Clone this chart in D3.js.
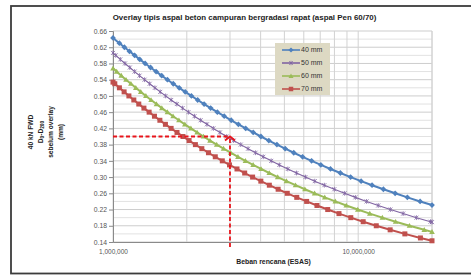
<!DOCTYPE html>
<html><head><meta charset="utf-8">
<script src="https://cdn.jsdelivr.net/npm/d3@7"></script>
<style>body{margin:0;background:#fff}svg{display:block}text{font-family:"Liberation Sans",Arial,sans-serif}</style>
</head><body>
<script>
const title = "Overlay tipis aspal beton campuran bergradasi rapat (aspal Pen 60/70)";
const xTitle = "Beban rencana (ESAS)";
const seriesNames = ["40 mm","50 mm","60 mm","70 mm"];
const seriesColors = ["#4F81BD","#8064A2","#9BBB59","#C0504D"];
// ESAS in millions, deflection D0-D200 (mm)
const esas40 = [1,1.062,1.113,1.167,1.225,1.286,1.352,1.423,1.499,1.580,1.667,1.761,1.862,1.970,2.088,2.215,2.353,2.502,2.665,2.842,3.035,3.246,3.478,3.732,4.012,4.320,4.661,5.040,5.460,5.930,6.455,7.044,7.708,8.458,9.310,10.28,11.39,12.67,14.15,15.87,17.89,20];
const d40 = [0.643,0.63,0.62,0.61,0.60,0.59,0.58,0.57,0.56,0.55,0.54,0.53,0.52,0.51,0.50,0.49,0.48,0.47,0.46,0.45,0.44,0.43,0.42,0.41,0.40,0.39,0.38,0.37,0.36,0.35,0.34,0.33,0.32,0.31,0.30,0.29,0.28,0.27,0.26,0.25,0.24,0.231];
const esas50 = [1,1.026,1.071,1.119,1.171,1.225,1.283,1.345,1.411,1.482,1.558,1.639,1.727,1.821,1.922,2.031,2.149,2.277,2.416,2.566,2.730,2.909,3.105,3.319,3.555,3.814,4.101,4.418,4.771,5.163,5.602,6.095,6.650,7.278,7.991,8.805,9.739,10.82,12.07,13.53,15.25,17.28,19.72,20];
const d50 = [0.606,0.60,0.59,0.58,0.57,0.56,0.55,0.54,0.53,0.52,0.51,0.50,0.49,0.48,0.47,0.46,0.45,0.44,0.43,0.42,0.41,0.40,0.39,0.38,0.37,0.36,0.35,0.34,0.33,0.32,0.31,0.30,0.29,0.28,0.27,0.26,0.25,0.24,0.23,0.22,0.21,0.20,0.19,0.189];
const esas60 = [1,1.035,1.081,1.130,1.183,1.239,1.298,1.362,1.430,1.504,1.582,1.667,1.758,1.857,1.963,2.078,2.203,2.339,2.487,2.648,2.825,3.019,3.233,3.468,3.728,4.017,4.337,4.696,5.098,5.551,6.062,6.642,7.305,8.065,8.941,9.958,11.15,12.55,14.21,16.19,18.60,20];
const d60 = [0.568,0.56,0.55,0.54,0.53,0.52,0.51,0.50,0.49,0.48,0.47,0.46,0.45,0.44,0.43,0.42,0.41,0.40,0.39,0.38,0.37,0.36,0.35,0.34,0.33,0.32,0.31,0.30,0.29,0.28,0.27,0.26,0.25,0.24,0.23,0.22,0.21,0.20,0.19,0.18,0.17,0.165];
const esas70 = [1,1.017,1.062,1.110,1.161,1.216,1.274,1.337,1.404,1.476,1.553,1.636,1.726,1.824,1.929,2.043,2.168,2.303,2.451,2.613,2.791,2.987,3.204,3.444,3.710,4.008,4.341,4.715,5.137,5.616,6.163,6.789,7.511,8.349,9.329,10.48,11.85,13.50,15.50,17.94,20];
const d70 = [0.534,0.53,0.52,0.51,0.50,0.49,0.48,0.47,0.46,0.45,0.44,0.43,0.42,0.41,0.40,0.39,0.38,0.37,0.36,0.35,0.34,0.33,0.32,0.31,0.30,0.29,0.28,0.27,0.26,0.25,0.24,0.23,0.22,0.21,0.20,0.19,0.18,0.17,0.16,0.15,0.143];
const yTicks = [0.14,0.18,0.22,0.26,0.30,0.34,0.38,0.42,0.46,0.50,0.54,0.58,0.62,0.66];
const xTickValues = [1e6,1e7];
const xTickLabels = ["1,000,000","10,000,000"];
const refX = 3e6, refY = 0.40;

const W=471,H=276;
const svg=d3.select("body").append("svg").attr("width",W).attr("height",H);
svg.append("rect").attr("x",11).attr("y",6).attr("width",480).attr("height",267.5)
  .attr("fill","#fff").attr("stroke","#3c3c3c").attr("stroke-width",1.8);

const x=d3.scaleLog().domain([1e6,2e7]).range([113,432]);
const y=d3.scaleLinear().domain([0.14,0.66]).range([242,31]);

// gridlines
const g=svg.append("g");
const minorY=d3.range(0.14,0.6601,0.02).map(v=>+v.toFixed(2));
g.selectAll(".hy").data(minorY).join("line")
  .attr("x1",113).attr("x2",432).attr("y1",d=>y(d)).attr("y2",d=>y(d))
  .attr("stroke",d=>yTicks.some(t=>Math.abs(t-d)<1e-6)?"#cdcdcd":"#e2e2e2").attr("stroke-width",1);
const vx=[];for(let k=6;k<=7;k++)for(let m=1;m<=9;m++){const v=m*Math.pow(10,k);if(v<=2e7)vx.push(v);}
vx.push(2e7);
g.selectAll(".vx").data(vx).join("line")
  .attr("x1",d=>x(d)).attr("x2",d=>x(d)).attr("y1",31).attr("y2",242)
  .attr("stroke","#d2d2d2").attr("stroke-width",1);

// axes
const ya=d3.axisLeft(y).tickValues(yTicks).tickFormat(d3.format(".2f")).tickSize(4);
const yg=svg.append("g").attr("transform","translate(113,0)").call(ya);
yg.select(".domain").attr("stroke","#8a8a8a");
yg.selectAll("line").attr("stroke","#8a8a8a");
yg.selectAll("text").attr("font-size",6.8).attr("fill","#555").attr("x",-6);
const xa=d3.axisBottom(x).tickValues(xTickValues).tickFormat((d,i)=>xTickLabels[i]).tickSize(0);
const xg=svg.append("g").attr("transform","translate(0,242)").call(xa);
xg.select(".domain").attr("stroke","#8a8a8a");
xg.selectAll("text").attr("font-size",6.5).attr("fill","#555").attr("dy",9);

// series
const esasAll=[esas40,esas50,esas60,esas70];
const dAll=[d40,d50,d60,d70];
const line=d3.line().x(d=>x(d[0])).y(d=>y(d[1]));
function marker(sel,i,cx,cy,s){
  s=s||1;const c=seriesColors[i];
  if(i===0){const r=2.9*s;sel.append("path").attr("d",`M${cx},${cy-r}L${cx+r},${cy}L${cx},${cy+r}L${cx-r},${cy}Z`).attr("fill",c);}
  else if(i===1){const r=2*s;sel.append("path").attr("d",`M${cx-r},${cy-r}L${cx+r},${cy+r}M${cx-r},${cy+r}L${cx+r},${cy-r}M${cx},${cy-r-0.4}L${cx},${cy+r+0.4}`).attr("stroke",c).attr("stroke-width",0.8);}
  else if(i===2){const r=2.8*s;sel.append("path").attr("d",`M${cx},${cy-r}L${cx+r},${cy+r*0.75}L${cx-r},${cy+r*0.75}Z`).attr("fill",c);}
  else {const r=2.5*s;sel.append("rect").attr("x",cx-r).attr("y",cy-r).attr("width",2*r).attr("height",2*r).attr("fill",c);}
}
dAll.forEach((s,i)=>{
  const pts=esasAll[i].map((e,j)=>[e*1e6,s[j]]);
  svg.append("path").datum(pts).attr("d",line).attr("fill","none")
    .attr("stroke",seriesColors[i]).attr("stroke-width",i===1?1.1:2);
  const mg=svg.append("g");
  pts.forEach(p=>marker(mg,i,x(p[0]),y(p[1])));
});

// red dashed reference arrow
const red="#e8141b";
svg.append("line").attr("x1",113).attr("x2",x(refX)).attr("y1",y(refY)).attr("y2",y(refY))
  .attr("stroke",red).attr("stroke-width",1.8).attr("stroke-dasharray","4,2.5");
svg.append("line").attr("x1",x(refX)).attr("x2",x(refX)).attr("y1",247).attr("y2",y(refY)+1)
  .attr("stroke",red).attr("stroke-width",1.8).attr("stroke-dasharray","4,2.5");
svg.append("path").attr("d",`M${x(refX)-5},${y(refY)+4}L${x(refX)},${y(refY)}L${x(refX)+5},${y(refY)+4}`)
  .attr("fill","none").attr("stroke",red).attr("stroke-width",1.8);

// legend
const lg=svg.append("g");
lg.append("rect").attr("x",275).attr("y",43).attr("width",55).attr("height",52).attr("fill","#ddd9c3");
seriesNames.forEach((n,i)=>{
  const ly=50+i*13;
  lg.append("line").attr("x1",282).attr("x2",300).attr("y1",ly).attr("y2",ly).attr("stroke",seriesColors[i]).attr("stroke-width",1.6);
  marker(lg,i,291,ly,0.9);
  lg.append("text").attr("x",301).attr("y",ly+2.4).attr("font-size",7).attr("fill","#333").text(n);
});

// titles
svg.append("text").attr("x",244.5).attr("y",20).attr("text-anchor","middle").attr("font-size",7.9)
  .attr("font-weight","bold").attr("fill","#222").text(title);
svg.append("text").attr("x",273.5).attr("y",264).attr("text-anchor","middle").attr("font-size",6.9)
  .attr("font-weight","bold").attr("fill","#222").text(xTitle);
const yt=svg.append("g").attr("transform","translate(0,132) rotate(-90)");
const ylines=[[31,"40 kN FWD"],[40.5,null],[51,"sebelum overlay"],[60.5,"(mm)"]];
ylines.forEach(([dx,t])=>{
  const tx=yt.append("text").attr("x",0).attr("y",dx+2.2).attr("text-anchor","middle").attr("font-size",6.6)
    .attr("font-weight","bold").attr("fill","#222");
  if(t) tx.text(t);
  else {tx.append("tspan").text("D");tx.append("tspan").attr("font-size",4.8).attr("dy",1.5).text("0");
        tx.append("tspan").attr("dy",-1.5).text("-D");tx.append("tspan").attr("font-size",4.8).attr("dy",1.5).text("200");}
});
</script>
</body></html>
